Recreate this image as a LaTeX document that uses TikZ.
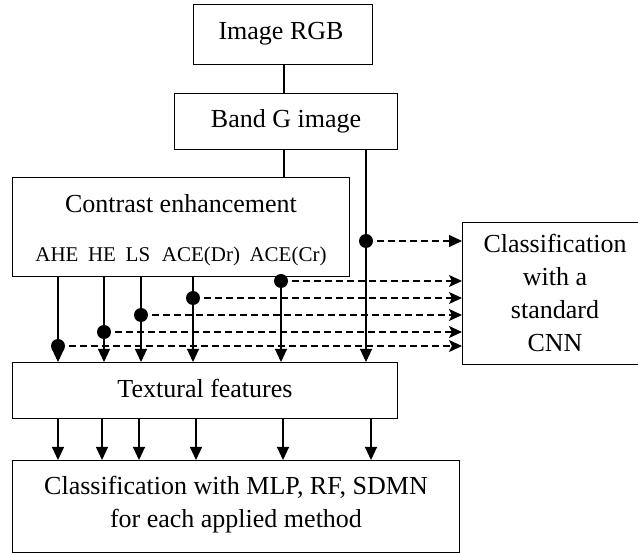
\documentclass[tikz,border=0pt]{standalone}
\usepackage{fontspec}
\setmainfont{Liberation Serif}
\usetikzlibrary{arrows.meta}
\begin{document}
\begin{tikzpicture}[x=1pt,y=-1pt,
  box/.style={draw, line width=1.1pt, inner sep=0pt, anchor=north west},
  big/.style={font=\fontsize{26}{33}\selectfont, inner sep=0pt, anchor=base, align=center},
  small/.style={font=\fontsize{21}{25}\selectfont, inner sep=0pt, anchor=base},
  link/.style={line width=1.1pt},
  flow/.style={line width=1.1pt, -{Triangle[length=13pt,width=12pt]}},
  tap/.style={circle, fill, inner sep=0pt, minimum size=14pt},
  feed/.style={line width=1.1pt, dash pattern=on 7pt off 4pt},
  feedtip/.style={feed, -{Triangle[length=13pt,width=12pt]}},
  feedstealth/.style={feed, -{Stealth[length=13pt,width=12pt,inset=3pt]}},
]
\useasboundingbox (0,0) rectangle (638,553);

% boxes
\node[box, minimum width=179pt, minimum height=60pt] (rgb) at (193,4) {};
\node[box, minimum width=223pt, minimum height=56pt] (band) at (174,93) {};
\node[box, minimum width=337pt, minimum height=99pt] (contrast) at (12,177) {};
\node[box, minimum width=186pt, minimum height=142pt] (cnn) at (462,222) {};
\node[box, minimum width=385pt, minimum height=56pt] (textural) at (12,362) {};
\node[box, minimum width=447pt, minimum height=92pt] (final) at (12,460) {};

% texts (base anchor sits on the last line's baseline)
\node[big] (rgbtext) at (281,40) {Image RGB};
\node[big] (bandtext) at (286,128) {Band G image};
\node[big] (contrasttext) at (181,213) {Contrast enhancement};
\node[small] (ahe) at (57,262) {AHE};
\node[small] (he) at (102,262) {HE};
\node[small] (ls) at (138,262) {LS};
\node[small] (acedr) at (201,262) {ACE(Dr)};
\node[small] (acecr) at (288,262) {ACE(Cr)};
\node[big] (cnntext) at (555,352) {Classification\\with a\\standard\\CNN};
\node[big] (texturaltext) at (205,398) {Textural features};
\node[big] (finaltext) at (236,528) {Classification with MLP, RF, SDMN\\for each applied method};

% trunk between the top boxes
\coordinate (trunk) at (284,0);
\draw[link] (trunk |- rgb.south) -- (trunk |- band.north);
\draw[link] (trunk |- band.south) -- (trunk |- contrast.north);

% branch points
\node[tap] (t1) at (58,346) {};
\node[tap] (t2) at (104,332) {};
\node[tap] (t3) at (141,315) {};
\node[tap] (t4) at (193,298) {};
\node[tap] (t5) at (281,281) {};
\node[tap] (t6) at (366,241) {};

% methods into textural features
\foreach \t in {t1,t2,t3,t4,t5}
  \draw[flow] (\t |- contrast.south) -- (\t |- textural.north);
\draw[flow] (t6 |- band.south) -- (t6 |- textural.north);

% dashed feeds to the CNN
\foreach \t in {t1,t2,t3,t4,t5}
  \draw[feedstealth] (\t.center) -- (\t -| cnn.west);
\draw[feedtip] (t6.center) -- (t6 -| cnn.west);

% textural features into the classifiers
\foreach \n/\x in {l1/58,l2/102,l3/139,l4/196,l5/283,l6/371}{
  \coordinate (\n) at (\x,0);
  \draw[flow] (\n |- textural.south) -- (\n |- final.north);
}
\end{tikzpicture}
\end{document}
